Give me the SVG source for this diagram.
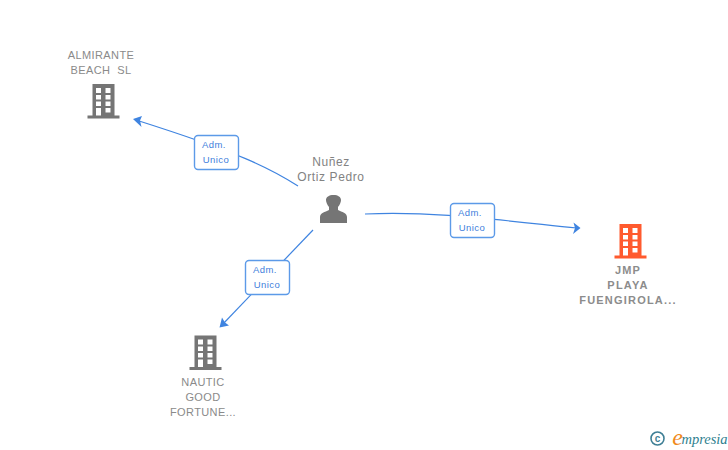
<svg xmlns="http://www.w3.org/2000/svg" width="728" height="450" viewBox="0 0 728 450">
<style>
text{font-family:"Liberation Sans",Arial,sans-serif;text-anchor:middle}
.n{font-size:11px;fill:#8a8a8a;letter-spacing:.4px}
.b{font-weight:bold;fill:#8c8c8c;letter-spacing:1.2px}
.p{font-size:12px;fill:#828282;letter-spacing:.6px}
.l{font-size:9.5px;fill:#3f80dc;letter-spacing:.4px}
.c{fill:none;stroke:#3f84e0;stroke-width:1.2}
.a{fill:#3f84e0}
.box{fill:#fff;stroke:#5c9ae8;stroke-width:1.4}
.f{font-family:"Liberation Serif",serif;font-style:italic}
</style>
<defs>
<path id="bld" fill-rule="evenodd" d="M5 0H27V31.500H32V34.500H0V31.500H5ZM8.500 4V9H13.500V4ZM18 4V9H23V4ZM8.500 11V15.500H13.500V11ZM18 11V15.500H23V11ZM8.500 17.500V22H13.500V17.500ZM18 17.500V22H23V17.500ZM8.500 24V31.500H13.500V24ZM18 24V28.500H23V24Z"/>
</defs>
<rect width="728" height="450" fill="#fff"/>
<g id="connectors">
<path class="c" d="M298 186C270 168 240 153 136 120"/>
<path class="a" d="M133 119L142 116L140 120.500L141.500 127Z"/>
<path class="c" d="M365 214C430 211 490 219 577 228"/>
<path class="a" d="M580.500 228L573.500 222.500L575 228L573 234Z"/>
<path class="c" d="M313 230L222 325"/>
<path class="a" d="M219.500 327.500L222 317.500L225 322.500L229 325.500Z"/>
</g>
<g id="label-1"><rect class="box" x="194.500" y="135.500" width="44" height="34" rx="3.500"/><text class="l" x="214" y="148">Adm.</text><text class="l" x="216" y="163">Unico</text></g>
<g id="label-2"><rect class="box" x="450.500" y="203.500" width="44" height="34" rx="3.500"/><text class="l" x="470" y="216">Adm.</text><text class="l" x="472" y="231">Unico</text></g>
<g id="label-3"><rect class="box" x="245.500" y="260.500" width="44" height="34" rx="3.500"/><text class="l" x="265" y="273">Adm.</text><text class="l" x="267" y="288">Unico</text></g>
<g id="node-almirante">
<use href="#bld" x="87.500" y="84" fill="#757575"/>
<text class="n" x="101" y="59">ALMIRANTE</text><text class="n" x="101" y="74">BEACH&#160;&#160;SL</text>
</g>
<g id="node-pedro">
<path fill="#757575" d="M320 223V217C320 213 325 212 329 210V207C327 204.500 326 202 326 200C326 197 329 195 333.500 195C338 195 341 197 341 200C341 202 340 204.500 338 207V210C342 212 347 213 347 217V223Z"/>
<text class="p" x="331" y="166">Nuñez</text><text class="p" x="331" y="181">Ortiz Pedro</text>
</g>
<g id="node-jmp">
<use href="#bld" x="614.500" y="224" fill="#ff5a2e"/>
<text class="n b" x="628" y="274">JMP</text><text class="n b" x="628" y="289">PLAYA</text><text class="n b" x="628" y="304">FUENGIROLA...</text>
</g>
<g id="node-nautic">
<use href="#bld" x="189.500" y="335.500" fill="#757575"/>
<text class="n" x="203" y="386">NAUTIC</text><text class="n" x="203" y="401">GOOD</text><text class="n" x="203" y="416">FORTUNE...</text>
</g>
<g id="footer">
<circle cx="657.500" cy="438.500" r="6.500" fill="none" stroke="#3f7f95" stroke-width="1.600"/>
<text x="657.500" y="442" style="font-size:10px;fill:#3f7f95;font-weight:bold">c</text>
<text class="f" x="677.500" y="445" style="font-size:24px;fill:#f08a1c">e</text>
<text class="f" x="704.500" y="444" style="font-size:14.500px;fill:#2f7f8f">mpresia</text>
</g>
</svg>
